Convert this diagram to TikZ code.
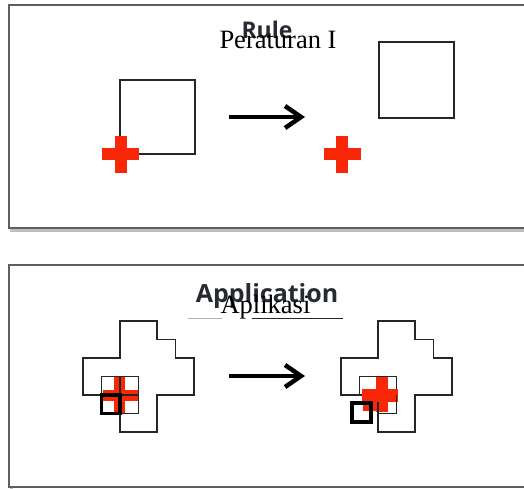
\documentclass[tikz,border=0pt]{standalone}
\usepackage{fontspec}
\setmainfont{Liberation Serif}
\newfontfamily\titlesans{Open Sans}
\usetikzlibrary{arrows.meta}
\definecolor{crossred}{RGB}{250,38,8}
\definecolor{framegray}{RGB}{95,95,95}
\definecolor{titlegray}{RGB}{40,42,50}
\begin{document}
\begin{tikzpicture}[x=1pt,y=-1pt,
  frame/.style={draw=framegray,line width=1.3pt},
  shade/.style={draw=black!25,line width=3pt},
  outline/.style={draw=black!85,line width=1.8pt,line join=miter},
  sq/.style={draw=black!85,line width=1.6pt},
  thinsq/.style={draw=black!85,line width=1.3pt},
  thicksq/.style={draw=black,line width=3.2pt},
  bigarrow/.style={line width=4.5pt,-{Straight Barb[length=16pt 0,width=22pt 0]}},
  engtitle/.style={font=\titlesans\bfseries\fontsize{23}{23}\selectfont,text=titlegray,anchor=base,inner sep=0pt},
  trtitle/.style={font=\fontsize{26.5}{26.5}\selectfont,text=black,anchor=base,inner sep=0pt}]
\useasboundingbox (0,0) rectangle (524,488);
% ---------- top panel ----------
\draw[shade] (11,8) -- (11,230.5) -- (530,230.5);
\draw[frame,fill=white] (9,5) rectangle (530,228);
\node[engtitle] (rule) at (267,38) {Rule};
\node[trtitle] (peraturan) at (278,48) {Peraturan I};
\draw[sq] (120,80) rectangle (195,154);
\fill[crossred] (115,136) rectangle (127,173);
\fill[crossred] (102,148) rectangle (139,160);
\coordinate (a1s) at (229,117);
\coordinate (a1e) at (305,117);
\draw[bigarrow] (a1s) -- (a1e);
\draw[sq] (379,42) rectangle (454,118);
\fill[crossred] (336,136) rectangle (348,173);
\fill[crossred] (324,148) rectangle (361,160);
% ---------- bottom panel ----------
\draw[shade] (11,268) -- (11,489);
\draw[frame,fill=white] (9,265) rectangle (530,487);
\node[engtitle,font=\titlesans\bfseries\fontsize{25}{25}\selectfont] (application) at (267,302) {Application};
\node[trtitle] (aplikasi) at (265.5,313) {Aplikasi};
\draw[black!30,line width=0.8pt] (188,318) -- (222,318);
\draw[black!85,line width=1pt] (252,318) -- (343,318);
% left shape
\draw[outline] (120,321) -- (157,321) -- (157,339.5) -- (175.5,339.5) -- (175.5,358) -- (194,358) -- (194,395) -- (157,395) -- (157,432) -- (120,432) -- (120,395) -- (83,395) -- (83,358) -- (120,358) -- cycle;
\fill[crossred] (114,376.5) rectangle (124.5,413.5);
\fill[crossred] (103,390) rectangle (138.5,400.5);
\draw[thinsq] (101.5,376.5) rectangle (138.5,413.5);
\draw[thinsq] (120,376.5) -- (120,413.5);
\draw[thinsq] (101.5,395) -- (138.5,395);
\draw[thicksq] (101.5,395) rectangle (120,413.5);
\coordinate (a2s) at (229,376);
\coordinate (a2e) at (305,376);
\draw[bigarrow] (a2s) -- (a2e);
% right shape
\draw[outline] (378,321) -- (415,321) -- (415,339.5) -- (433.5,339.5) -- (433.5,358) -- (452,358) -- (452,395) -- (415,395) -- (415,432) -- (378,432) -- (378,395) -- (341,395) -- (341,358) -- (378,358) -- cycle;
\draw[thinsq] (359.5,376.5) rectangle (378,395);
\draw[thinsq] (378,376.5) rectangle (396.5,395);
\draw[thinsq] (378,395) rectangle (396.5,413.5);
\fill[crossred] (376,376.5) rectangle (388,412);
\fill[crossred] (362,389) rectangle (398,402);
\fill[crossred] (363,395) rectangle (378,411);
\draw[thinsq] (378,402) -- (378,413.5) -- (396.5,413.5) -- (396.5,395);
\draw[thicksq] (352,403) rectangle (371,422);
\end{tikzpicture}
\end{document}
